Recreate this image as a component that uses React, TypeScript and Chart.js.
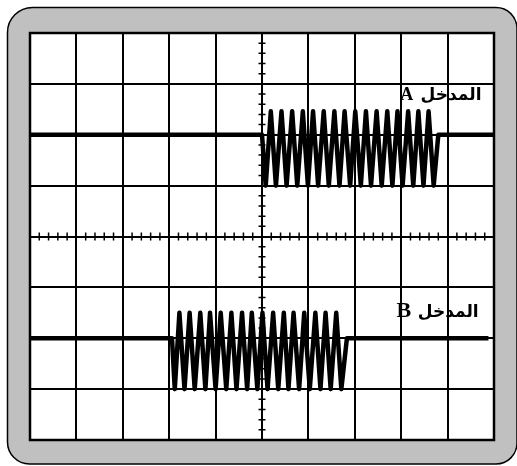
import React, { useEffect, useRef } from "react";
import { Chart, registerables } from "chart.js";

Chart.register(...registerables);

// Signal A (input A): baseline at +2 div, burst between ~5.0 and ~8.8 div
const aX = [
  0, 5.0, 5.08, 5.19, 5.30, 5.42, 5.53, 5.65, 5.76, 5.88, 5.99, 6.10, 6.21, 6.33, 6.44, 6.56, 6.67,
  6.78, 6.90, 7.01, 7.13, 7.24, 7.35, 7.47, 7.58, 7.70, 7.81, 7.92, 8.03, 8.15, 8.26, 8.37, 8.48,
  8.59, 8.70, 8.80, 10,
];
const aY = [
  2, 2, 1, 2.46, 1, 2.46, 1, 2.46, 1, 2.46, 1, 2.46, 1, 2.46, 1, 2.46, 1,
  2.46, 1, 2.46, 1, 2.46, 1, 2.46, 1, 2.46, 1, 2.46, 1, 2.46, 1, 2.46, 1,
  2.46, 1, 2, 2,
];

// Signal B (input B): baseline at -2 div, burst between ~3.06 and ~6.83 div
const bX = [
  0, 3.06, 3.12, 3.22, 3.33, 3.44, 3.55, 3.67, 3.78, 3.88, 4.0, 4.11, 4.23, 4.34, 4.45, 4.57, 4.68,
  4.78, 4.90, 5.01, 5.12, 5.24, 5.35, 5.47, 5.57, 5.68, 5.80, 5.91, 6.03, 6.15, 6.26, 6.37, 6.48,
  6.60, 6.71, 6.83, 9.88,
];
const bY = [
  -2, -2, -3, -1.5, -3, -1.5, -3, -1.5, -3, -1.5, -3, -1.5, -3, -1.5, -3, -1.5, -3,
  -1.5, -3, -1.5, -3, -1.5, -3, -1.5, -3, -1.5, -3, -1.5, -3, -1.5, -3, -1.5, -3,
  -1.5, -3, -2, -2,
];

const xDivisions = [0, 10];
const yDivisions = [-4, 4];

const labelWord = "المدخل";
const labelA = "A";
const labelB = "B";

export default function App() {
  const ref = useRef<HTMLCanvasElement>(null);

  useEffect(() => {
    const canvas = ref.current!;

    const framePlugin = {
      id: "scopeFrame",
      beforeDraw(chart: any) {
        const ctx = chart.ctx as CanvasRenderingContext2D;
        const { left, top, right, bottom } = chart.chartArea;
        ctx.save();
        ctx.fillStyle = "#ffffff";
        ctx.fillRect(0, 0, chart.width, chart.height);
        ctx.beginPath();
        (ctx as any).roundRect(left - 22.5, top - 25.5, right - left + 45.5, bottom - top + 49.5, [25, 21, 21, 22]);
        ctx.fillStyle = "#c0c0c0";
        ctx.fill();
        ctx.lineWidth = 1.5;
        ctx.strokeStyle = "#000";
        ctx.stroke();
        ctx.fillStyle = "#ffffff";
        ctx.fillRect(left, top, right - left, bottom - top);
        ctx.restore();
      },
      beforeDatasetsDraw(chart: any) {
        const ctx = chart.ctx as CanvasRenderingContext2D;
        const xs = chart.scales.x;
        const ys = chart.scales.y;
        const { left, top, right, bottom } = chart.chartArea;
        const cx = xs.getPixelForValue(5);
        const cy = ys.getPixelForValue(0);
        ctx.save();
        ctx.strokeStyle = "#000";
        ctx.lineWidth = 1.5;
        ctx.beginPath();
        for (let i = 1; i < 40; i++) {
          if (i % 5 === 0) continue;
          const y = ys.getPixelForValue(-4 + i * 0.2);
          ctx.moveTo(cx - 3.5, y);
          ctx.lineTo(cx + 3.5, y);
        }
        for (let i = 1; i < 50; i++) {
          if (i % 5 === 0) continue;
          const x = xs.getPixelForValue(i * 0.2);
          ctx.moveTo(x, cy - 4);
          ctx.lineTo(x, cy + 4);
        }
        ctx.stroke();
        ctx.lineWidth = 2.5;
        ctx.strokeRect(left, top, right - left, bottom - top);
        ctx.restore();
      },
      afterDatasetsDraw(chart: any) {
        const ctx = chart.ctx as CanvasRenderingContext2D;
        const xs = chart.scales.x;
        const ys = chart.scales.y;
        ctx.save();
        ctx.fillStyle = "#000";
        ctx.textBaseline = "alphabetic";
        // label A
        ctx.textAlign = "left";
        ctx.font = 'bold 18px "Liberation Serif", serif';
        ctx.fillText(labelA, xs.getPixelForValue(7.98), ys.getPixelForValue(2.68));
        ctx.textAlign = "right";
        ctx.font = 'bold 17px "Liberation Serif", "DejaVu Sans", sans-serif';
        ctx.fillText(labelWord, xs.getPixelForValue(9.73), ys.getPixelForValue(2.68));
        // label B
        ctx.textAlign = "left";
        ctx.font = 'bold 22px "Liberation Serif", serif';
        ctx.fillText(labelB, xs.getPixelForValue(7.9), ys.getPixelForValue(-1.58));
        ctx.textAlign = "right";
        ctx.font = 'bold 17px "Liberation Serif", "DejaVu Sans", sans-serif';
        ctx.fillText(labelWord, xs.getPixelForValue(9.67), ys.getPixelForValue(-1.58));
        ctx.restore();
      },
    };

    const chart = new Chart(canvas, {
      type: "line",
      data: {
        datasets: [
          {
            label: "A",
            data: aX.map((x, i) => ({ x, y: aY[i] })),
            borderColor: "#000",
            borderWidth: 4.5,
            pointRadius: 0,
            tension: 0,
            borderJoinStyle: "round",
            fill: false,
          },
          {
            label: "B",
            data: bX.map((x, i) => ({ x, y: bY[i] })),
            borderColor: "#000",
            borderWidth: 4.5,
            pointRadius: 0,
            tension: 0,
            borderJoinStyle: "round",
            fill: false,
          },
        ],
      },
      options: {
        animation: false,
        responsive: false,
        devicePixelRatio: 1,
        layout: { padding: { left: 30, top: 33, right: 23, bottom: 26 } },
        plugins: { legend: { display: false }, tooltip: { enabled: false } },
        scales: {
          x: {
            type: "linear",
            min: xDivisions[0],
            max: xDivisions[1],
            ticks: { display: false, stepSize: 1 },
            grid: { color: "#000", lineWidth: 2, drawTicks: false },
            border: { display: false },
          },
          y: {
            type: "linear",
            min: yDivisions[0],
            max: yDivisions[1],
            ticks: { display: false, stepSize: 1 },
            grid: { color: "#000", lineWidth: 2, drawTicks: false },
            border: { display: false },
          },
        },
      },
      plugins: [framePlugin],
    } as any);

    return () => chart.destroy();
  }, []);

  return (
    <div style={{ position: "absolute", left: 0, top: 0, width: 517, height: 466 }}>
      <canvas ref={ref} width={517} height={466} style={{ display: "block" }} />
    </div>
  );
}
